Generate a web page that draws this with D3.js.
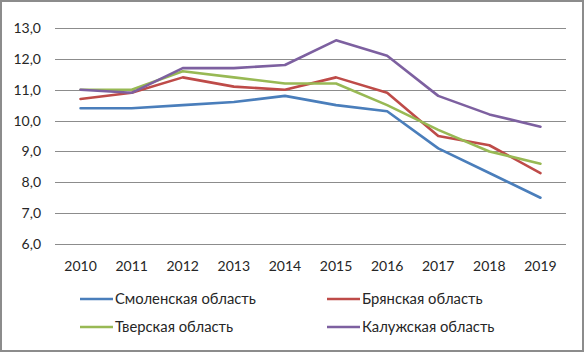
<!DOCTYPE html>
<html lang="ru">
<head>
<meta charset="UTF-8">
<title>Line Chart</title>
<script src="https://d3js.org/d3.v7.min.js"></script>
<style>
  body { margin: 0; background: #fff; }
  text { font-family: Lato, "Open Sans", sans-serif; fill: #262626; }
</style>
</head>
<body>
<svg id="chart" width="584" height="352"></svg>
<script>
const years = ["2010", "2011", "2012", "2013", "2014", "2015", "2016", "2017", "2018", "2019"];
const yTicks = [6, 7, 8, 9, 10, 11, 12, 13];
const smolensk = [10.4, 10.4, 10.5, 10.6, 10.8, 10.5, 10.3, 9.1, 8.3, 7.5];
const bryansk = [10.7, 10.9, 11.4, 11.1, 11.0, 11.4, 10.9, 9.5, 9.2, 8.3];
const tver = [11.0, 11.0, 11.6, 11.4, 11.2, 11.2, 10.5, 9.7, 9.0, 8.6];
const kaluga = [11.0, 10.9, 11.7, 11.7, 11.8, 12.6, 12.1, 10.8, 10.2, 9.8];

const series = [
  {name: "Смоленская область", values: smolensk, color: "#4a7ebb"},
  {name: "Брянская область", values: bryansk, color: "#be4b48"},
  {name: "Тверская область", values: tver, color: "#98b954"},
  {name: "Калужская область", values: kaluga, color: "#7d60a0"}
];

const svg = d3.select("#chart");

// outer frame
svg.append("rect")
  .attr("x", 1).attr("y", 1)
  .attr("width", 582).attr("height", 350)
  .attr("fill", "none")
  .attr("stroke", "#8c8c8c")
  .attr("stroke-width", 2);

const x = d3.scaleBand().domain(years).range([55, 566]);
const y = d3.scaleLinear().domain([6, 13]).range([244, 28]);

// grid lines
svg.append("g")
  .selectAll("line")
  .data(yTicks)
  .join("line")
    .attr("x1", 55).attr("x2", 566)
    .attr("y1", d => Math.round(y(d)) + 0.5)
    .attr("y2", d => Math.round(y(d)) + 0.5)
    .attr("stroke", "#8c8c8c")
    .attr("stroke-width", 1);

// y labels
svg.append("g")
  .selectAll("text")
  .data(yTicks)
  .join("text")
    .attr("x", 41)
    .attr("y", d => y(d) + 5)
    .attr("text-anchor", "end")
    .style("font-size", "14px")
    .text(d => d3.format(".1f")(d).replace(".", ","));

// x labels
svg.append("g")
  .selectAll("text")
  .data(years)
  .join("text")
    .attr("x", d => x(d) + x.bandwidth() / 2)
    .attr("y", 271)
    .attr("text-anchor", "middle")
    .style("font-size", "14px")
    .text(d => d);

const line = d3.line()
  .x((d, i) => x(years[i]) + x.bandwidth() / 2)
  .y(d => y(d));

svg.append("g")
  .selectAll("path")
  .data(series)
  .join("path")
    .attr("d", d => line(d.values))
    .attr("fill", "none")
    .attr("stroke", d => d.color)
    .attr("stroke-width", 2.6)
    .attr("stroke-linejoin", "round")
    .attr("stroke-linecap", "round");

// legend
const legendPos = [[80, 299], [327, 299], [80, 327], [327, 327]];
const legend = svg.append("g")
  .selectAll("g")
  .data(series)
  .join("g")
    .attr("transform", (d, i) => `translate(${legendPos[i][0]},${legendPos[i][1]})`);

legend.append("line")
  .attr("x1", 0).attr("x2", 33)
  .attr("stroke", d => d.color)
  .attr("stroke-width", 2.6);

legend.append("text")
  .attr("x", 35)
  .attr("y", 5)
  .style("font-size", "14.8px")
  .text(d => d.name);
</script>
</body>
</html>
